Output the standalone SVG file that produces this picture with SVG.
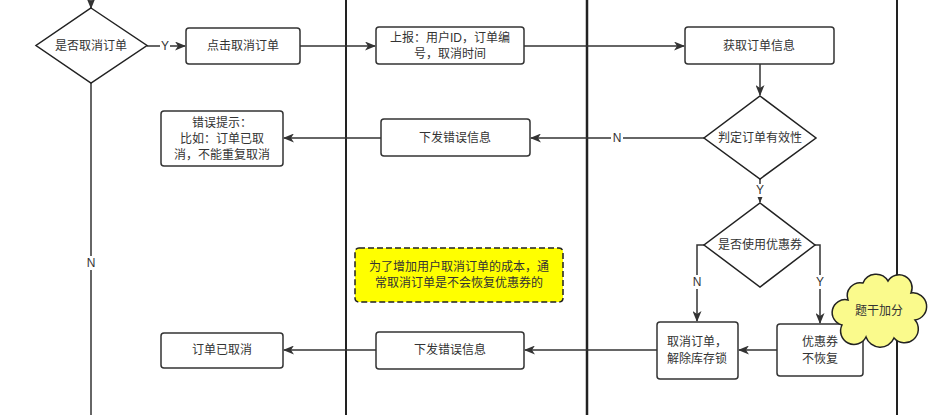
<svg xmlns="http://www.w3.org/2000/svg" width="936" height="415" viewBox="0 0 936 415">
<defs>
<marker id="arr" markerWidth="11" markerHeight="9" refX="10" refY="4.5" orient="auto" markerUnits="userSpaceOnUse">
<path d="M0,0 L11,4.5 L0,9 L3,4.5 Z" fill="#333"/>
</marker>
</defs>
<style>
text{font-family:"Liberation Sans","Noto Sans CJK SC",sans-serif;font-size:12px;fill:#333;text-anchor:middle;dominant-baseline:central}
.box{fill:#fff;stroke:#333;stroke-width:1.5}
.dia{fill:#fff;stroke:#222;stroke-width:1.5}
.ln{fill:none;stroke:#333;stroke-width:1.5}
.lane{stroke:#222;fill:none}
.lbl{fill:#fff}
</style>
<rect width="936" height="415" fill="#fff"/>
<g id="lanes">
<line class="lane" x1="346" y1="0" x2="346" y2="415" stroke-width="2"/>
<line class="lane" x1="587" y1="0" x2="587" y2="415" stroke-width="2.5"/>
<line class="lane" x1="897" y1="0" x2="897" y2="415" stroke-width="2" stroke="#444"/>
</g>
<g id="connectors">
<line class="ln" x1="91" y1="-2" x2="91" y2="8" marker-end="url(#arr)"/>
<line class="ln" x1="91" y1="83" x2="91" y2="415"/>
<rect class="lbl" x="85" y="256" width="12" height="14"/>
<text x="91" y="263">N</text>
<line class="ln" x1="147" y1="46" x2="185" y2="46" marker-end="url(#arr)"/>
<rect class="lbl" x="160" y="39" width="10" height="14"/>
<text x="165" y="46">Y</text>
<line class="ln" x1="300" y1="46" x2="375" y2="46" marker-end="url(#arr)"/>
<line class="ln" x1="524" y1="46" x2="684" y2="46" marker-end="url(#arr)"/>
<line class="ln" x1="760" y1="64" x2="760" y2="95" marker-end="url(#arr)"/>
<line class="ln" x1="704" y1="138" x2="531" y2="138" marker-end="url(#arr)"/>
<rect class="lbl" x="611" y="131" width="12" height="14"/>
<text x="617" y="138">N</text>
<line class="ln" x1="381" y1="138" x2="284" y2="138" marker-end="url(#arr)"/>
<line class="ln" x1="760" y1="179" x2="760" y2="202" marker-end="url(#arr)"/>
<rect class="lbl" x="755" y="184" width="10" height="13"/>
<text x="760" y="190">Y</text>
<polyline class="ln" points="704,245 697,245 697,321" marker-end="url(#arr)"/>
<rect class="lbl" x="691" y="275" width="12" height="14"/>
<text x="697" y="282">N</text>
<polyline class="ln" points="815,245 820,245 820,323" marker-end="url(#arr)"/>
<rect class="lbl" x="815" y="275" width="10" height="14"/>
<text x="820" y="282">Y</text>
<line class="ln" x1="777" y1="350" x2="739" y2="350" marker-end="url(#arr)"/>
<line class="ln" x1="657" y1="350" x2="525" y2="350" marker-end="url(#arr)"/>
<line class="ln" x1="376" y1="350" x2="284" y2="350" marker-end="url(#arr)"/>
</g>
<g id="n1">
<polygon class="dia" points="91,8 147,45.5 91,83 36,45.5"/>
<text x="91" y="46">是否取消订单</text>
</g>
<g id="n2">
<rect class="box" x="186" y="28" width="114" height="36" rx="3"/>
<text x="243" y="46">点击取消订单</text>
</g>
<g id="n3">
<rect class="box" x="376" y="27" width="148" height="37" rx="3"/>
<text x="450" y="38">上报：用户ID，订单编</text>
<text x="450" y="54">号，取消时间</text>
</g>
<g id="n4">
<rect class="box" x="685" y="27" width="149" height="37" rx="3"/>
<text x="759" y="46">获取订单信息</text>
</g>
<g id="n5">
<polygon class="dia" points="760,96 816,138 760,179 704,138"/>
<text x="760" y="138">判定订单有效性</text>
</g>
<g id="n6">
<rect class="box" x="381" y="119" width="149" height="37" rx="3"/>
<text x="455" y="138">下发错误信息</text>
</g>
<g id="n7">
<rect class="box" x="161" y="111" width="122" height="55" rx="3"/>
<text x="222" y="123">错误提示：</text>
<text x="222" y="139">比如：订单已取</text>
<text x="222" y="155">消，不能重复取消</text>
</g>
<g id="n8">
<polygon class="dia" points="760,203 815,245 760,287 704,245"/>
<text x="760" y="245">是否使用优惠券</text>
</g>
<g id="n9">
<rect class="box" x="657" y="322" width="81" height="57" rx="3"/>
<text x="697" y="342">取消订单，</text>
<text x="697" y="359">解除库存锁</text>
</g>
<g id="n10">
<rect class="box" x="777" y="324" width="86" height="52" rx="3"/>
<text x="820" y="342">优惠券</text>
<text x="820" y="359">不恢复</text>
</g>
<g id="n11">
<rect class="box" x="376" y="332" width="148" height="37" rx="3"/>
<text x="450" y="350">下发错误信息</text>
</g>
<g id="n12">
<rect class="box" x="161" y="333" width="122" height="35" rx="3"/>
<text x="222" y="350">订单已取消</text>
</g>
<g id="note">
<rect x="355" y="248" width="208" height="54" rx="4" fill="#ffff00" stroke="#222" stroke-width="1.5" stroke-dasharray="6,3"/>
<text x="459" y="267">为了增加用户取消订单的成本，通</text>
<text x="459" y="283">常取消订单是不会恢复优惠券的</text>
</g>
<g id="cloud">
<path d="M848,300 A13,13 0 0 1 863,283 A14,14 0 0 1 888,281 A13,13 0 0 1 911,293 A12,12 0 0 1 915,320 A13,13 0 0 1 894,338 A15,15 0 0 1 866,337 A12,12 0 0 1 842,325 A12,12 0 0 1 848,300 Z" fill="#fafa8c" stroke="#222" stroke-width="1.5"/>
<text x="879" y="311">题干加分</text>
</g>
</svg>
